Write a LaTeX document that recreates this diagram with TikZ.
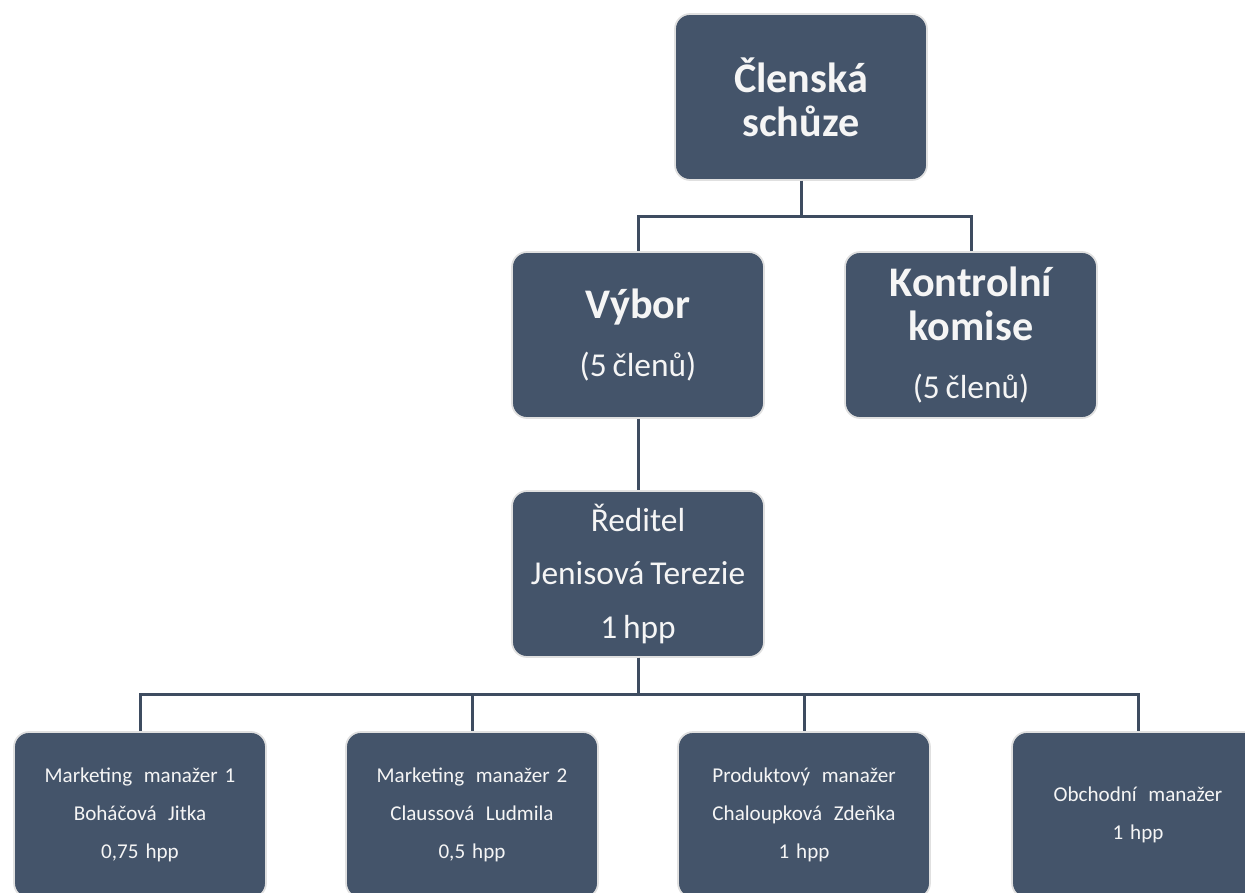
\documentclass[tikz,border=0pt]{standalone}
\usepackage{fontspec}
\setmainfont{Carlito}
\usepackage{tikz}
\usetikzlibrary{positioning}
\definecolor{boxblue}{HTML}{44546A}
\definecolor{edgeblue}{HTML}{3E4C60}
\tikzstyle{unit}=[rectangle,rounded corners=3mm,fill=boxblue,draw=black!12,line width=0.35mm,text=white!96!black,minimum width=50.4mm,minimum height=33.2mm,text width=50mm,align=center,inner sep=0pt]
\tikzstyle{smallunit}=[unit,font=\fontsize{12}{21.5}\selectfont]
\tikzstyle{orgedge}=[draw,edgeblue,line width=0.6mm]
\newcommand{\titlefont}{\fontsize{24}{25}\selectfont\bfseries}
\newcommand{\subfont}{\fontsize{19}{22}\selectfont}
\newcommand{\gap}{\hspace{0.55em}}
\newcommand{\eol}{\par}

\begin{document}
\begin{tikzpicture}[x=0.2mm,y=-0.2mm]

\useasboundingbox (0,0) rectangle (1245,893);
\clip (0,0) rectangle (1245,893);

%top
\node[unit] (schuze) at (801,97) {{\titlefont Členská\\schůze\eol}};

%layer 1
\foreach \pos/\name/\label in {{(638,335)/vybor/{{\titlefont Výbor\eol}\vspace{11pt}{\subfont (5 členů)\eol}}}, {(971,335)/komise/{{\titlefont Kontrolní\\komise\eol}\vspace{11pt}{\subfont (5 členů)\eol}}}}
    \node[unit] (\name) at \pos {\label};

%layer 2
\node[unit] (reditel) at (638,574) {\fontsize{19}{30.5}\selectfont Ředitel\\Jenisová Terezie\\1 hpp\eol};

%layer 3
\foreach \pos/\name/\label in {{(140,815)/mm1/{Marketing\gap manažer 1\\Boháčová\gap Jitka\\0,75 hpp}}, {(472,815)/mm2/{Marketing\gap manažer 2\\Claussová\gap Ludmila\\0,5 hpp}}, {(804,815)/pm/{Produktový\gap manažer\\Chaloupková\gap Zdeňka\\1 hpp}}, {(1138,815)/om/{Obchodní\gap manažer\\1 hpp}}}
    \node[smallunit] (\name) at \pos {\label};

% Connect units
\foreach \dest in {vybor,komise}
    \path[orgedge] (schuze.south) -- ++(0,36) -| (\dest.north);
\path[orgedge] (vybor.south) -- (reditel.north);
\foreach \dest in {mm1,mm2,pm,om}
    \path[orgedge] (reditel.south) -- ++(0,37) -| (\dest.north);

\end{tikzpicture}
\end{document}
